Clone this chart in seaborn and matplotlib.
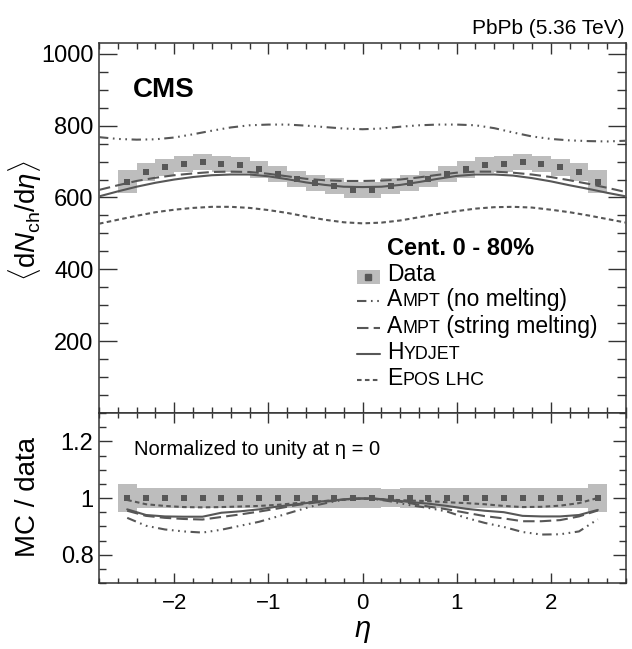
import numpy as np
import pandas as pd
import seaborn as sns
import matplotlib.pyplot as plt
from matplotlib.ticker import MultipleLocator, FuncFormatter
from matplotlib.patches import Rectangle

# data points (bin centres in eta)
eta_data = [-2.5, -2.3, -2.1, -1.9, -1.7, -1.5, -1.3, -1.1, -0.9, -0.7, -0.5, -0.3, -0.1,
            0.1, 0.3, 0.5, 0.7, 0.9, 1.1, 1.3, 1.5, 1.7, 1.9, 2.1, 2.3, 2.5]
dndeta = [644, 671, 684, 694, 699, 693, 690, 678, 666, 651, 641, 632, 621,
          621, 632, 641, 652, 666, 678, 690, 694, 699, 694, 684, 671, 644]
dndeta_err = [32, 24, 23, 22, 22, 22, 23, 23, 23, 22, 22, 23, 23,
              23, 23, 22, 22, 23, 23, 23, 22, 22, 22, 23, 24, 32]
ratio_data = [1.0] * 26
ratio_err = [0.048, 0.035, 0.035, 0.034, 0.034, 0.035, 0.037, 0.035, 0.034, 0.035, 0.034, 0.035, 0.037,
             0.037, 0.032, 0.034, 0.035, 0.034, 0.035, 0.037, 0.035, 0.034, 0.035, 0.035, 0.035, 0.048]

# model curves, top panel
eta_model = [-2.8, -2.6, -2.4, -2.2, -2.0, -1.8, -1.6, -1.4, -1.2, -1.0, -0.8, -0.6, -0.4, -0.2, 0.0,
             0.2, 0.4, 0.6, 0.8, 1.0, 1.2, 1.4, 1.6, 1.8, 2.0, 2.2, 2.4, 2.6, 2.8]
ampt_nm = [768, 763, 761, 762, 767, 776, 786, 795, 801, 803, 803, 800, 796, 792, 790,
           792, 797, 801, 803, 803, 801, 793, 781, 770, 763, 759, 757, 756, 758]
ampt_sm = [621, 634, 646, 655, 662, 667, 671, 672, 671, 666, 659, 652, 648, 646, 646,
           647, 650, 656, 663, 669, 672, 672, 669, 664, 657, 648, 638, 627, 615]
hydjet = [603, 617, 630, 641, 650, 657, 662, 664, 664, 659, 651, 642, 635, 630, 629,
          630, 635, 643, 652, 660, 664, 664, 661, 654, 645, 634, 624, 613, 603]
epos = [527, 538, 549, 559, 566, 571, 574, 574, 571, 565, 557, 547, 538, 531, 528,
        530, 536, 545, 554, 562, 569, 573, 574, 572, 566, 559, 550, 540, 530]

# model / data ratios, bottom panel
r_ampt_nm = [0.930, 0.902, 0.889, 0.882, 0.878, 0.888, 0.902, 0.916, 0.935, 0.955, 0.974, 0.988, 0.998,
             0.998, 0.988, 0.975, 0.965, 0.952, 0.930, 0.912, 0.898, 0.880, 0.871, 0.872, 0.882, 0.925]
r_ampt_sm = [0.955, 0.937, 0.930, 0.926, 0.924, 0.933, 0.942, 0.952, 0.963, 0.975, 0.984, 0.990, 0.998,
             0.998, 0.992, 0.982, 0.970, 0.960, 0.948, 0.936, 0.928, 0.918, 0.918, 0.922, 0.935, 0.956]
r_hydjet = [0.960, 0.940, 0.935, 0.934, 0.934, 0.948, 0.953, 0.960, 0.970, 0.978, 0.986, 0.992, 0.998,
            0.999, 0.993, 0.986, 0.980, 0.972, 0.962, 0.955, 0.950, 0.937, 0.935, 0.935, 0.940, 0.958]
r_epos = [0.993, 0.978, 0.972, 0.968, 0.967, 0.968, 0.970, 0.972, 0.976, 0.982, 0.987, 0.992, 0.997,
          0.997, 0.994, 0.991, 0.989, 0.985, 0.982, 0.978, 0.972, 0.968, 0.969, 0.973, 0.982, 1.000]

sns.set_theme(style='ticks')
plt.rcParams['font.family'] = ['Liberation Sans', 'DejaVu Sans']
plt.rcParams['mathtext.fontset'] = 'custom'
plt.rcParams['mathtext.rm'] = 'Liberation Sans'
plt.rcParams['mathtext.it'] = 'Liberation Sans:italic'
plt.rcParams['mathtext.bf'] = 'Liberation Sans:bold'
plt.rcParams['text.color'] = 'black'
plt.rcParams['axes.labelcolor'] = 'black'

GREY = '#575757'
BOX = '#bdbdbd'
LW = 1.5
styles = {
    'ampt_nm': (0, (4.5, 2.2, 0.8, 2.2, 0.8, 2.2, 0.8, 2.2)),
    'ampt_sm': (0, (5.5, 2.5)),
    'hydjet': '-',
    'epos': (0, (2.2, 1.6)),
}

fig = plt.figure(figsize=(6.32, 6.49), dpi=100)
ax1 = fig.add_axes([0.1566, 0.3636, 0.834, 0.5701])
ax2 = fig.add_axes([0.1566, 0.1017, 0.834, 0.2619])

top = pd.DataFrame({'eta': eta_data, 'val': dndeta, 'err': dndeta_err})
bot = pd.DataFrame({'eta': eta_data, 'val': ratio_data, 'err': ratio_err})
models = pd.DataFrame({'eta': eta_model, 'ampt_nm': ampt_nm, 'ampt_sm': ampt_sm,
                       'hydjet': hydjet, 'epos': epos})
ratios = pd.DataFrame({'eta': eta_data, 'ampt_nm': r_ampt_nm, 'ampt_sm': r_ampt_sm,
                       'hydjet': r_hydjet, 'epos': r_epos})

for ax, d, m in [(ax1, top, models), (ax2, bot, ratios)]:
    # systematic boxes
    ax.bar(d['eta'], 2 * d['err'], bottom=d['val'] - d['err'], width=0.2,
           color=BOX, linewidth=0, zorder=1)
    for key in ['ampt_nm', 'ampt_sm', 'hydjet', 'epos']:
        sns.lineplot(data=m, x='eta', y=key, ax=ax, color=GREY, lw=LW,
                     linestyle=styles[key], zorder=3, legend=False)
    sns.scatterplot(data=d, x='eta', y='val', ax=ax, marker='s', s=22,
                    color=GREY, linewidth=0, zorder=4, legend=False)

for ax in (ax1, ax2):
    ax.set_xlim(-2.8, 2.8)
    ax.xaxis.set_major_locator(MultipleLocator(1))
    ax.xaxis.set_minor_locator(MultipleLocator(0.2))
    ax.tick_params(which='both', direction='in', top=True, right=True,
                   width=1.0, color='#333333', labelcolor='black')
    ax.tick_params(axis='x', labelsize=16)
    ax.tick_params(axis='y', labelsize=17)
    for s in ax.spines.values():
        s.set_linewidth(1.1)
        s.set_color('#333333')

ax1.set_ylim(0, 1030)
ax1.yaxis.set_major_locator(MultipleLocator(200))
ax1.yaxis.set_minor_locator(MultipleLocator(50))
ax1.yaxis.set_major_formatter(FuncFormatter(lambda v, p: '' if v == 0 else f'{v:.0f}'))
ax1.tick_params(axis='y', which='major', length=13, pad=4)
ax1.tick_params(axis='y', which='minor', length=6.5)
ax1.tick_params(axis='x', which='major', length=8, labelbottom=False)
ax1.tick_params(axis='x', which='minor', length=4)
ax1.set_xlabel('')
ax1.set_ylabel(r'$\langle\mathrm{d}N_{\mathrm{ch}}/\mathrm{d}\eta\rangle$', fontsize=20)
ax1.yaxis.set_label_coords(-0.105, 0.52)

ax2.set_ylim(0.7, 1.3)
ax2.yaxis.set_major_locator(MultipleLocator(0.2))
ax2.yaxis.set_minor_locator(MultipleLocator(0.05))
ax2.yaxis.set_major_formatter(FuncFormatter(lambda v, p: f'{v:g}'))
ax2.tick_params(axis='y', which='major', length=9.5, pad=4)
ax2.tick_params(axis='y', which='minor', length=5)
ax2.tick_params(axis='x', which='major', length=7, pad=7)
ax2.tick_params(axis='x', which='minor', length=3.5)
ax2.set_ylabel('MC / data', fontsize=20)
ax2.yaxis.set_label_coords(-0.11, 0.508)
ax2.set_xlabel(r'$\eta$', fontsize=21)
ax2.xaxis.set_label_coords(0.5, -0.2)

ax1.text(0.0645, 0.854, 'CMS', transform=ax1.transAxes, fontsize=20,
         fontweight='bold', va='baseline')
fig.text(0.988, 0.948, 'PbPb (5.36 TeV)', fontsize=15, ha='right', va='baseline')
ax2.text(0.0665, 0.753, 'Normalized to unity at η = 0', transform=ax2.transAxes,
         fontsize=14.5, va='baseline')

# legend, drawn by hand for the small-caps generator names
fig.canvas.draw()
rend = fig.canvas.get_renderer()
LEG = 16.5


def key_text(x, y, parts):
    for txt, scale in parts:
        t = ax1.text(x, y, txt, transform=ax1.transAxes, va='baseline',
                     fontsize=LEG * scale)
        x += t.get_window_extent(rend).width / ax1.bbox.width


x0, x1, xt = 0.4896, 0.533, 0.546
dy = 5.5 / ax1.bbox.height
ax1.text(xt, 0.427, 'Cent. 0 - 80%', transform=ax1.transAxes, fontsize=17,
         fontweight='bold', va='baseline')
ax1.add_patch(Rectangle((x0, 0.358 - 0.0097), x1 - x0, 0.0387, transform=ax1.transAxes,
                        color=BOX, linewidth=0))
ax1.plot([(x0 + x1) / 2], [0.358 + 0.0097], transform=ax1.transAxes, marker='s',
         ms=4.5, color=GREY, linestyle='none')
key_text(xt, 0.358, [('Data', 1.0)])
rows = [(0.288, 'ampt_nm', [('A', 1.0), ('MPT', 0.78), (' (no melting)', 1.0)]),
        (0.216, 'ampt_sm', [('A', 1.0), ('MPT', 0.78), (' (string melting)', 1.0)]),
        (0.145, 'hydjet', [('H', 1.0), ('YDJET', 0.78)]),
        (0.075, 'epos', [('E', 1.0), ('POS', 0.78), (' LHC', 0.84)])]
for y, key, parts in rows:
    ax1.plot([x0, x1], [y + dy, y + dy], transform=ax1.transAxes, color=GREY,
             lw=LW, linestyle=styles[key])
    key_text(xt, y, parts)

fig.savefig('out.png', dpi=100)
